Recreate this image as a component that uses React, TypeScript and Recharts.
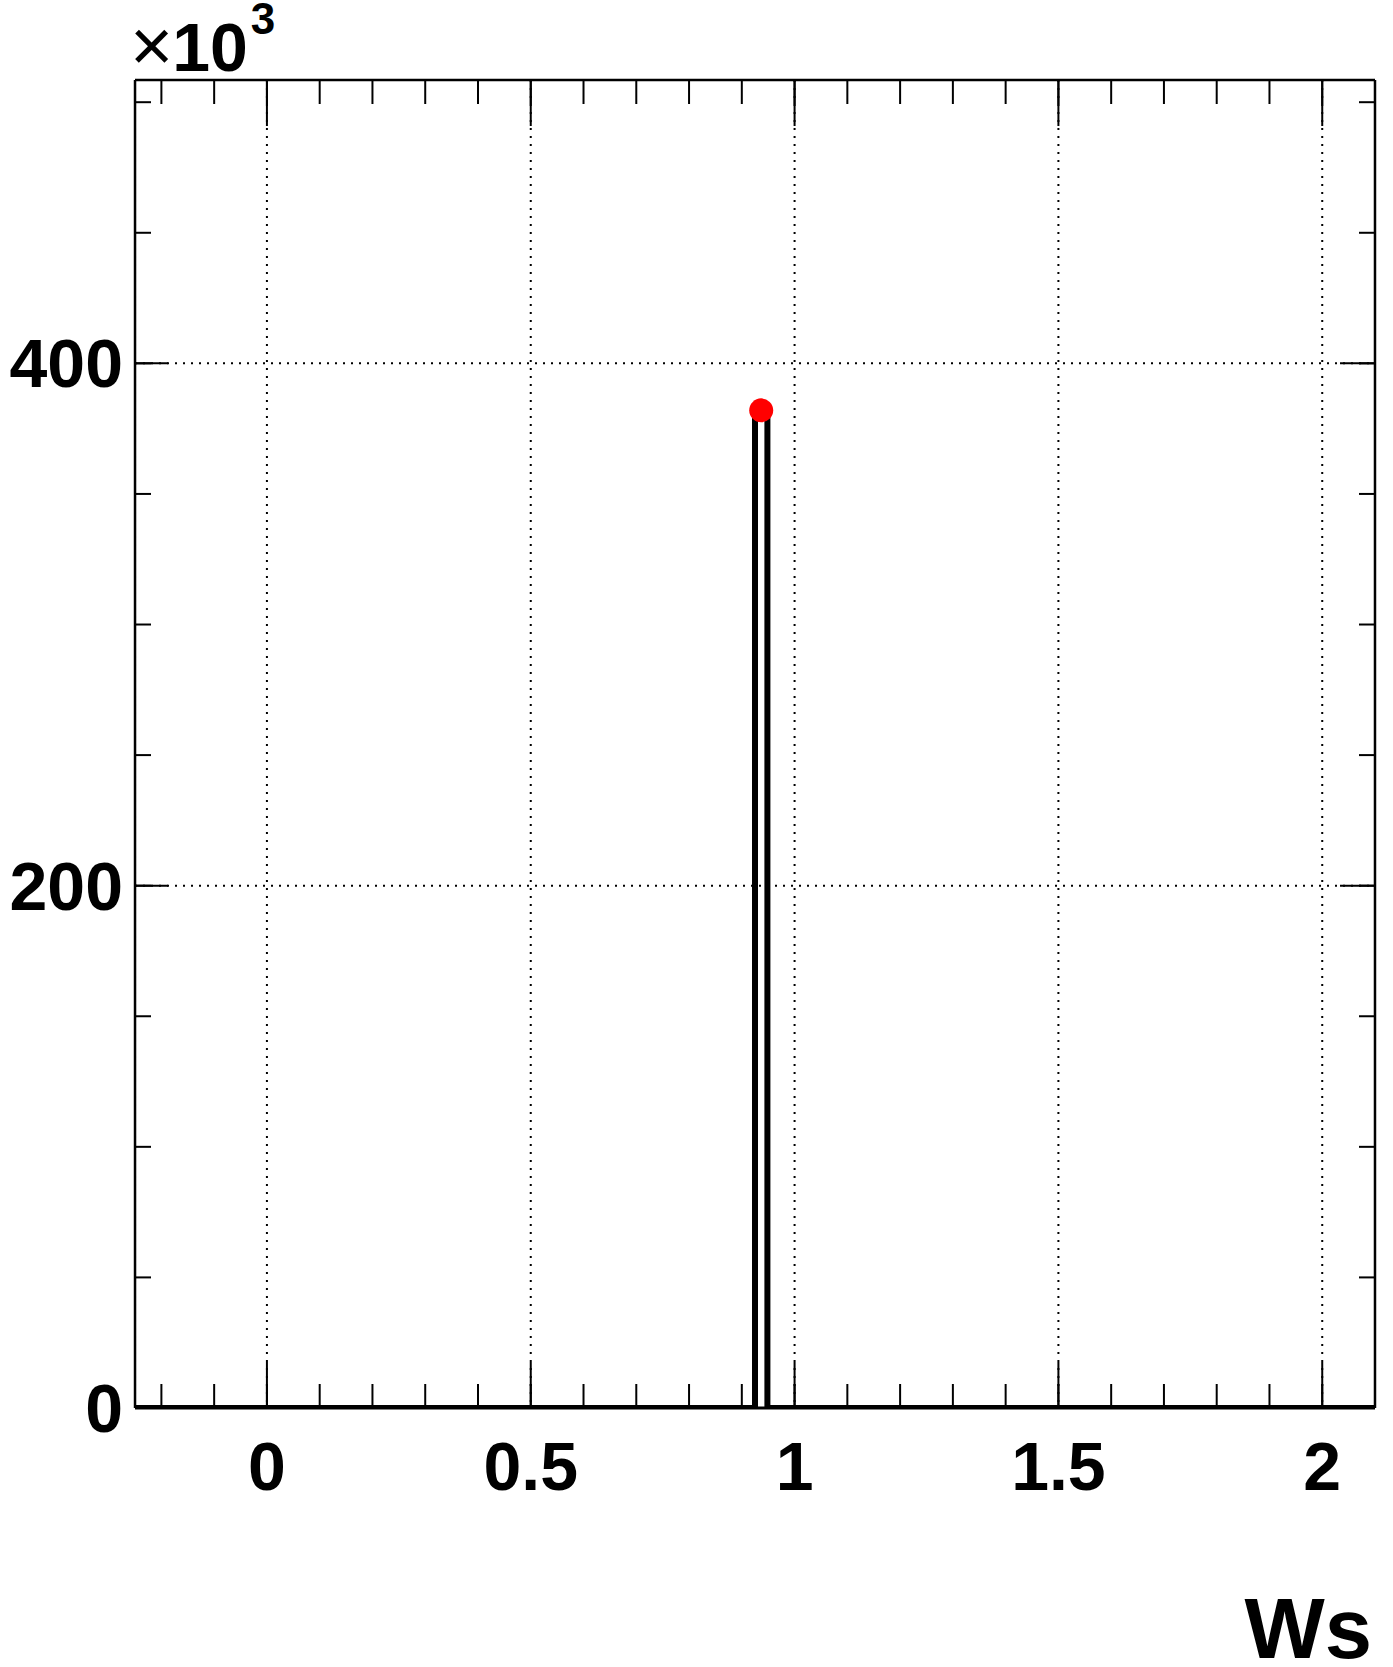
import {
  ComposedChart,
  CartesianGrid,
  Line,
  Scatter,
  XAxis,
  YAxis,
} from "recharts";

// histogram outline: bin edges and the count starting at each edge
const binEdges = [-0.25, 0.925, 0.9485, 2.1];
const binCounts = [0, 382000, 0, 0];

// marker at the filled bin centre
const markerX = [0.93675];
const markerY = [382000];

const xMajorTicks = [0, 0.5, 1, 1.5, 2];
const xMinorTicks = [
  -0.2, -0.1, 0, 0.1, 0.2, 0.3, 0.4, 0.5, 0.6, 0.7, 0.8, 0.9, 1, 1.1, 1.2,
  1.3, 1.4, 1.5, 1.6, 1.7, 1.8, 1.9, 2, 2.1,
];
const yMajorTicks = [0, 200000, 400000];
const yMinorTicks = [
  0, 50000, 100000, 150000, 200000, 250000, 300000, 350000, 400000, 450000,
  500000,
];

const xDomain: [number, number] = [-0.25, 2.1];
const yDomain: [number, number] = [0, 508500];

const FONT = "'Liberation Sans', Arial, Helvetica, sans-serif";
const THIN = 0.01; // axes must have a non-zero size to be drawn

const histData = binEdges.map((x, i) => ({ x, y: binCounts[i] }));
const markerData = markerX.map((x, i) => ({ x, y: markerY[i] }));

const labelTick = {
  fontSize: 68,
  fontWeight: "bold",
  fill: "#000",
  fontFamily: FONT,
};

// tick marks only, no text
const noLabel = () => <g />;
const tickStroke = { stroke: "#000", strokeWidth: 2 };

const RedDot = (props: any) => (
  <circle cx={props.cx} cy={props.cy} r={12} fill="#ff0000" />
);

export default function App() {
  return (
    <div style={{ position: "absolute", left: 0, top: 0 }}>
      <ComposedChart
        width={1393}
        height={1667}
        data={histData}
        margin={{ top: 80, right: 18, bottom: 259, left: 135 }}
      >
        <CartesianGrid
          xAxisId="x"
          yAxisId="y"
          stroke="#000"
          strokeWidth={2}
          strokeDasharray="2 6"
        />

        {/* labelled axes */}
        <XAxis
          xAxisId="x"
          dataKey="x"
          type="number"
          domain={xDomain}
          allowDataOverflow
          ticks={xMajorTicks}
          height={THIN}
          tickSize={0}
          tickLine={false}
          axisLine={false}
          tickMargin={34}
          tick={labelTick}
          label={{
            value: "Ws",
            content: ({ viewBox }: any) => (
              <text
                x={viewBox.x + viewBox.width - 3}
                y={viewBox.y + 250}
                textAnchor="end"
                fontSize={85}
                fontWeight="bold"
                fontFamily={FONT}
                fill="#000"
              >
                Ws
              </text>
            ),
          }}
        />
        <YAxis
          yAxisId="y"
          type="number"
          domain={yDomain}
          allowDataOverflow
          ticks={yMajorTicks}
          width={THIN}
          tickSize={0}
          tickLine={false}
          axisLine={false}
          tickMargin={12}
          tick={labelTick}
          tickFormatter={(v: number) => `${v / 1000}`}
          label={{
            value: "x10^3",
            content: ({ viewBox }: any) => (
              <text
                x={viewBox.x - 5}
                y={viewBox.y - 9}
                fontFamily={FONT}
                fill="#000"
              >
                <tspan fontSize={74}>×</tspan>
                <tspan fontSize={68} fontWeight="bold" dx={-1}>
                  10
                </tspan>
                <tspan fontSize={44} fontWeight="bold" dx={3} dy={-37}>
                  3
                </tspan>
              </text>
            ),
          }}
        />

        {/* inward ticks and frame */}
        <XAxis
          xAxisId="xMinB"
          dataKey="x"
          type="number"
          domain={xDomain}
          allowDataOverflow
          ticks={xMinorTicks}
          interval={0}
          height={THIN}
          mirror
          tick={noLabel}
          tickSize={24}
          tickLine={tickStroke}
          axisLine={{ stroke: "#000", strokeWidth: 3 }}
        />
        <XAxis
          xAxisId="xMajB"
          dataKey="x"
          type="number"
          domain={xDomain}
          allowDataOverflow
          ticks={xMajorTicks}
          interval={0}
          height={THIN}
          mirror
          tick={noLabel}
          tickSize={46}
          tickLine={tickStroke}
          axisLine={false}
        />
        <XAxis
          xAxisId="xMinT"
          dataKey="x"
          orientation="top"
          type="number"
          domain={xDomain}
          allowDataOverflow
          ticks={xMinorTicks}
          interval={0}
          height={THIN}
          mirror
          tick={noLabel}
          tickSize={24}
          tickLine={tickStroke}
          axisLine={{ stroke: "#000", strokeWidth: 2.5 }}
        />
        <XAxis
          xAxisId="xMajT"
          dataKey="x"
          orientation="top"
          type="number"
          domain={xDomain}
          allowDataOverflow
          ticks={xMajorTicks}
          interval={0}
          height={THIN}
          mirror
          tick={noLabel}
          tickSize={46}
          tickLine={tickStroke}
          axisLine={false}
        />
        <YAxis
          yAxisId="yMinL"
          type="number"
          domain={yDomain}
          allowDataOverflow
          ticks={yMinorTicks}
          interval={0}
          width={THIN}
          mirror
          tick={noLabel}
          tickSize={16}
          tickLine={tickStroke}
          axisLine={{ stroke: "#000", strokeWidth: 2.5 }}
        />
        <YAxis
          yAxisId="yMajL"
          type="number"
          domain={yDomain}
          allowDataOverflow
          ticks={yMajorTicks}
          interval={0}
          width={THIN}
          mirror
          tick={noLabel}
          tickSize={33}
          tickLine={tickStroke}
          axisLine={false}
        />
        <YAxis
          yAxisId="yMinR"
          orientation="right"
          type="number"
          domain={yDomain}
          allowDataOverflow
          ticks={yMinorTicks}
          interval={0}
          width={THIN}
          mirror
          tick={noLabel}
          tickSize={16}
          tickLine={tickStroke}
          axisLine={{ stroke: "#000", strokeWidth: 2.5 }}
        />
        <YAxis
          yAxisId="yMajR"
          orientation="right"
          type="number"
          domain={yDomain}
          allowDataOverflow
          ticks={yMajorTicks}
          interval={0}
          width={THIN}
          mirror
          tick={noLabel}
          tickSize={35}
          tickLine={tickStroke}
          axisLine={false}
        />

        <Line
          xAxisId="x"
          yAxisId="y"
          dataKey="y"
          type="stepAfter"
          stroke="#000"
          strokeWidth={6}
          strokeLinejoin="miter"
          dot={false}
          activeDot={false}
          isAnimationActive={false}
        />
        <Scatter
          xAxisId="x"
          yAxisId="y"
          data={markerData}
          dataKey="y"
          shape={RedDot}
          isAnimationActive={false}
        />
      </ComposedChart>
    </div>
  );
}
